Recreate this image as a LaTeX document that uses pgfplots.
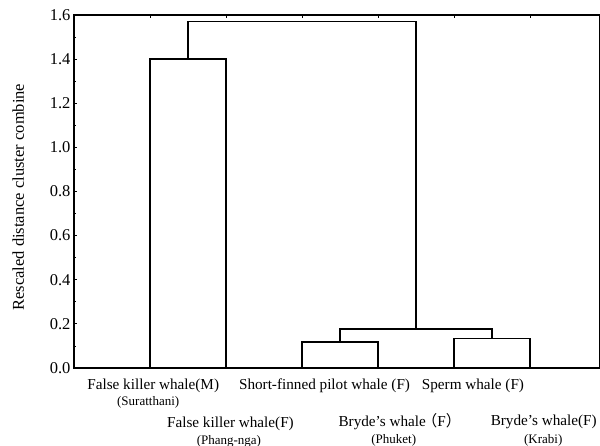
\documentclass[border=0pt]{standalone}
\usepackage{pgfplots}
\pgfplotsset{compat=1.18}
\usepackage{fontspec}
\setmainfont{Liberation Serif}
\newfontfamily\cjk{Noto Sans CJK SC}

\begin{document}
\begin{tikzpicture}
    \begin{axis}[
        at={(74pt,78pt)}, anchor=south west,
        scale only axis,
        width=526pt, height=353pt,
        xmin=0, xmax=6.92,
        ymin=0, ymax=1.6,
        clip=false,
        axis line style={line width=1.1pt},
        xtick={1,2,3,4,5,6},
        xticklabels={},
        xtick pos=right,
        ytick={0,0.2,...,1.6},
        ytick pos=left,
        minor y tick num=1,
        tick align=inside,
        major tick length=3pt,
        minor tick length=2pt,
        tick style={line width=0.8pt, black},
        yticklabel style={
            font=\fontsize{16.5}{17}\selectfont,
            /pgf/number format/.cd, fixed, fixed zerofill, precision=1,
            assume math mode=true},
        ylabel={Rescaled distance cluster combine},
        ylabel style={font=\fontsize{16.5}{17}\selectfont,
            at={(axis description cs:-0.106,0.484)}, anchor=center, rotate=0},
    ]
        % dendrogram links
        \addplot[black, line width=1.4pt] coordinates {(1,0) (1,1.40) (2,1.40) (2,0)};
        \addplot[black, line width=1.4pt] coordinates {(3,0) (3,0.117) (4,0.117) (4,0)};
        \addplot[black, line width=1.4pt] coordinates {(5,0) (5,0.135) (6,0.135) (6,0)};
        \addplot[black, line width=1.4pt] coordinates {(3.5,0.117) (3.5,0.177) (5.5,0.177) (5.5,0.135)};
        \addplot[black, line width=1.4pt] coordinates {(1.5,1.40) (1.5,1.57) (4.5,1.57) (4.5,0.177)};

        % leaf labels
        \begin{scope}[every node/.style={font=\fontsize{15.2}{16}\selectfont, inner sep=0pt}]
            \node at (axis cs:1.042,-0.0816) {False killer whale(M)};
            \node at (axis cs:2.058,-0.254) {False killer whale(F)};
            \node at (axis cs:3.296,-0.0816) {Short-finned pilot whale (F)};
            \node at (axis cs:4.286,-0.245) {Bryde’s whale\kern-0.25em{\cjk （}F{\cjk ）}};
            \node at (axis cs:5.249,-0.0816) {Sperm whale (F)};
            \node at (axis cs:6.18,-0.245) {Bryde’s whale(F)};
        \end{scope}
        \begin{scope}[every node/.style={font=\fontsize{13}{14}\selectfont, inner sep=0pt}]
            \node at (axis cs:0.976,-0.154) {(Suratthani)};
            \node at (axis cs:2.038,-0.331) {(Phang-nga)};
            \node at (axis cs:4.207,-0.326) {(Phuket)};
            \node at (axis cs:6.173,-0.326) {(Krabi)};
        \end{scope}
    \end{axis}
    \pgfresetboundingbox
    \path (0,0) rectangle (600pt,446pt);
\end{tikzpicture}
\end{document}
